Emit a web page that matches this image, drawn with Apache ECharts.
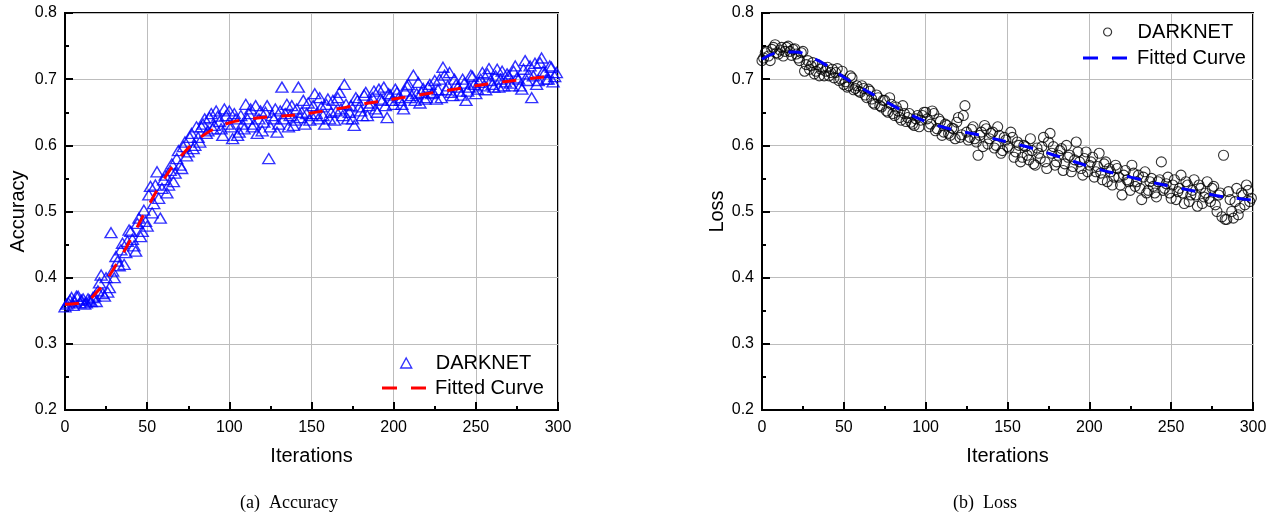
<!DOCTYPE html>
<html>
<head>
<meta charset="utf-8">
<script src="https://cdn.jsdelivr.net/npm/echarts@6/dist/echarts.min.js"></script>
<style>
html,body{margin:0;padding:0;background:#fff;}
#chart{width:1275px;height:519px;}
</style>
</head>
<body>
<div id="chart"></div>
<script>
// ---------- data ----------
const iterEven = [0,2,4,6,8,10,12,14,16,18,20,22,24,26,28,30,32,34,36,38,40,42,44,46,48,50,52,54,56,58,60,62,64,66,68,70,72,74,76,78,80,82,84,86,88,90,92,94,96,98,100,102,104,106,108,110,112,114,116,118,120,122,124,126,128,130,132,134,136,138,140,142,144,146,148,150,152,154,156,158,160,162,164,166,168,170,172,174,176,178,180,182,184,186,188,190,192,194,196,198,200,202,204,206,208,210,212,214,216,218,220,222,224,226,228,230,232,234,236,238,240,242,244,246,248,250,252,254,256,258,260,262,264,266,268,270,272,274,276,278,280,282,284,286,288,290,292,294,296,298];
const iterOdd = [1,3,5,7,9,11,13,15,17,19,21,23,25,27,29,31,33,35,37,39,41,43,45,47,49,51,53,55,57,59,61,63,65,67,69,71,73,75,77,79,81,83,85,87,89,91,93,95,97,99,101,103,105,107,109,111,113,115,117,119,121,123,125,127,129,131,133,135,137,139,141,143,145,147,149,151,153,155,157,159,161,163,165,167,169,171,173,175,177,179,181,183,185,187,189,191,193,195,197,199,201,203,205,207,209,211,213,215,217,219,221,223,225,227,229,231,233,235,237,239,241,243,245,247,249,251,253,255,257,259,261,263,265,267,269,271,273,275,277,279,281,283,285,287,289,291,293,295,297,299];

const accuracyEven = [0.356,0.362,0.370,0.364,0.372,0.366,0.360,0.368,0.364,0.372,0.380,0.404,0.372,0.378,0.468,0.400,0.425,0.442,0.420,0.455,0.470,0.448,0.482,0.462,0.502,0.478,0.538,0.512,0.560,0.490,0.548,0.528,0.562,0.545,0.580,0.570,0.598,0.584,0.612,0.595,0.628,0.605,0.632,0.618,0.642,0.625,0.652,0.636,0.615,0.645,0.652,0.610,0.640,0.620,0.632,0.662,0.648,0.628,0.660,0.640,0.622,0.650,0.580,0.645,0.655,0.632,0.688,0.648,0.628,0.660,0.638,0.688,0.650,0.632,0.664,0.645,0.678,0.640,0.658,0.632,0.670,0.650,0.638,0.672,0.655,0.692,0.640,0.660,0.630,0.668,0.652,0.676,0.645,0.664,0.682,0.650,0.670,0.688,0.642,0.676,0.662,0.680,0.668,0.655,0.690,0.672,0.706,0.678,0.664,0.686,0.672,0.692,0.680,0.670,0.700,0.718,0.684,0.710,0.675,0.692,0.682,0.700,0.668,0.688,0.704,0.678,0.695,0.710,0.684,0.716,0.692,0.705,0.688,0.712,0.696,0.705,0.690,0.720,0.700,0.685,0.728,0.708,0.672,0.724,0.698,0.732,0.710,0.700,0.718,0.704];
const accuracyOdd = [0.360,0.366,0.358,0.372,0.362,0.368,0.362,0.366,0.370,0.364,0.392,0.376,0.400,0.385,0.410,0.432,0.418,0.452,0.438,0.472,0.458,0.440,0.490,0.470,0.485,0.525,0.498,0.540,0.520,0.535,0.555,0.540,0.572,0.558,0.592,0.565,0.605,0.590,0.618,0.600,0.612,0.628,0.640,0.622,0.648,0.630,0.644,0.625,0.655,0.632,0.628,0.648,0.615,0.645,0.625,0.640,0.655,0.632,0.618,0.652,0.635,0.660,0.628,0.640,0.620,0.652,0.640,0.662,0.645,0.630,0.655,0.642,0.668,0.648,0.638,0.660,0.648,0.672,0.645,0.662,0.640,0.668,0.652,0.680,0.645,0.662,0.650,0.640,0.672,0.658,0.645,0.680,0.660,0.672,0.655,0.685,0.668,0.660,0.678,0.668,0.685,0.672,0.662,0.682,0.692,0.675,0.668,0.695,0.680,0.670,0.688,0.678,0.698,0.684,0.672,0.706,0.690,0.680,0.700,0.688,0.676,0.694,0.682,0.706,0.692,0.685,0.700,0.690,0.708,0.698,0.688,0.715,0.700,0.690,0.708,0.694,0.712,0.702,0.690,0.715,0.698,0.720,0.705,0.692,0.725,0.712,0.700,0.720,0.696,0.710];

const lossEven = [0.728,0.740,0.735,0.745,0.752,0.738,0.748,0.742,0.750,0.736,0.746,0.732,0.740,0.712,0.728,0.720,0.708,0.722,0.715,0.705,0.718,0.710,0.702,0.716,0.700,0.692,0.688,0.705,0.684,0.690,0.680,0.686,0.672,0.682,0.664,0.676,0.660,0.668,0.652,0.672,0.648,0.658,0.642,0.660,0.636,0.648,0.632,0.640,0.628,0.645,0.650,0.628,0.652,0.622,0.640,0.615,0.632,0.618,0.626,0.610,0.642,0.616,0.660,0.608,0.624,0.610,0.585,0.620,0.630,0.602,0.618,0.596,0.628,0.588,0.612,0.598,0.620,0.582,0.605,0.575,0.600,0.585,0.610,0.572,0.596,0.580,0.612,0.565,0.618,0.598,0.575,0.592,0.562,0.600,0.585,0.568,0.605,0.575,0.555,0.590,0.570,0.582,0.560,0.588,0.548,0.575,0.565,0.540,0.570,0.552,0.525,0.562,0.545,0.570,0.538,0.555,0.518,0.560,0.532,0.550,0.528,0.545,0.575,0.535,0.552,0.520,0.548,0.530,0.555,0.512,0.540,0.525,0.548,0.508,0.535,0.522,0.545,0.515,0.538,0.500,0.528,0.585,0.488,0.518,0.490,0.535,0.505,0.525,0.540,0.515];
const lossOdd = [0.732,0.742,0.728,0.748,0.740,0.744,0.735,0.748,0.742,0.745,0.738,0.728,0.742,0.722,0.715,0.725,0.712,0.705,0.718,0.712,0.705,0.715,0.710,0.698,0.712,0.696,0.690,0.702,0.686,0.682,0.690,0.676,0.685,0.670,0.662,0.672,0.658,0.668,0.650,0.662,0.645,0.652,0.638,0.648,0.642,0.635,0.630,0.645,0.638,0.650,0.640,0.632,0.648,0.625,0.636,0.620,0.630,0.615,0.625,0.635,0.612,0.645,0.620,0.612,0.628,0.605,0.615,0.598,0.625,0.610,0.620,0.600,0.615,0.592,0.608,0.596,0.612,0.590,0.600,0.582,0.598,0.578,0.592,0.570,0.588,0.598,0.575,0.605,0.588,0.570,0.585,0.595,0.572,0.582,0.560,0.578,0.590,0.565,0.580,0.560,0.575,0.552,0.568,0.558,0.572,0.545,0.560,0.552,0.565,0.540,0.555,0.548,0.532,0.558,0.545,0.535,0.552,0.528,0.545,0.538,0.522,0.548,0.532,0.542,0.528,0.540,0.518,0.535,0.528,0.545,0.515,0.532,0.525,0.540,0.512,0.528,0.520,0.535,0.510,0.525,0.492,0.488,0.530,0.500,0.515,0.495,0.528,0.510,0.532,0.520];

const fitX = [0,10,20,30,40,50,60,70,80,90,100,110,120,130,140,150,160,170,180,190,200,210,220,230,240,250,260,270,280,290,300];
const accuracyFit = [0.360,0.362,0.380,0.415,0.458,0.505,0.548,0.582,0.607,0.624,0.634,0.639,0.642,0.644,0.646,0.649,0.653,0.657,0.662,0.666,0.670,0.674,0.678,0.682,0.686,0.690,0.694,0.697,0.700,0.703,0.705];
const lossFit = [0.730,0.740,0.741,0.733,0.720,0.703,0.688,0.674,0.660,0.647,0.636,0.628,0.622,0.617,0.611,0.605,0.599,0.592,0.584,0.576,0.568,0.561,0.555,0.549,0.543,0.538,0.533,0.528,0.523,0.520,0.517];

const xTicks = [0,50,100,150,200,250,300];
const yTicks = [0.2,0.3,0.4,0.5,0.6,0.7,0.8];

// ---------- chart ----------
const SANS = "'Liberation Sans', Arial, Helvetica, sans-serif";
const SERIF = "'Liberation Serif', 'Times New Roman', serif";
const pair = (xs, ys) => xs.map((x, i) => [x, ys[i]]);
const merge = (xa, ya, xb, yb) => pair(xa, ya).concat(pair(xb, yb)).sort((p, q) => p[0] - q[0]);
const dashIcon = 'path://M0,0H15V3H0Z M29,0H44V3H29Z';

function xAxisOpt(gi) {
  return {
    gridIndex: gi, type: 'value', min: xTicks[0], max: xTicks[xTicks.length-1], interval: 50,
    name: 'Iterations', nameLocation: 'middle', nameGap: 36,
    nameTextStyle: {fontFamily: SANS, fontSize: 20, color: '#000'},
    axisLine: {show: true, lineStyle: {color: '#000', width: 2}},
    axisTick: {show: true, inside: true, length: 8, lineStyle: {color: '#000', width: 2}},
    minorTick: {show: true, splitNumber: 2, length: 4, lineStyle: {color: '#000', width: 2}},
    axisLabel: {fontFamily: SANS, fontSize: 16, color: '#000', margin: 10},
    splitLine: {show: true, lineStyle: {color: '#bdbdbd', width: 1}}
  };
}
function yAxisOpt(gi, name, gap) {
  return {
    gridIndex: gi, type: 'value', min: yTicks[0], max: yTicks[yTicks.length-1], interval: 0.1,
    name: name, nameLocation: 'middle', nameGap: gap,
    nameTextStyle: {fontFamily: SANS, fontSize: 20, color: '#000'},
    axisLine: {show: true, lineStyle: {color: '#000', width: 2}},
    axisTick: {show: true, inside: true, length: 8, lineStyle: {color: '#000', width: 2}},
    minorTick: {show: true, splitNumber: 2, length: 4, lineStyle: {color: '#000', width: 2}},
    axisLabel: {fontFamily: SANS, fontSize: 16, color: '#000', margin: 8,
      formatter: v => v.toFixed(1)},
    splitLine: {show: true, lineStyle: {color: '#bdbdbd', width: 1}}
  };
}
function legendOpt(name, icon, left, top, w, h, itemStyle, padLeft) {
  return {
    data: [{name: name, icon: icon}], left: left, top: top, orient: 'vertical',
    itemWidth: w, itemHeight: h, padding: 0, selectedMode: false,
    itemStyle: itemStyle,
    textStyle: {fontFamily: SANS, fontSize: 20, color: '#000', padding: [0, 0, 0, padLeft]}
  };
}

const chart = echarts.init(document.getElementById('chart'), null, {renderer: 'canvas'});
chart.setOption({
  animation: false,
  backgroundColor: '#fff',
  title: [
    {text: '(a)  Accuracy', left: 240, top: 494, padding: 0,
     textStyle: {fontFamily: SERIF, fontSize: 18, fontWeight: 'normal', color: '#000'}},
    {text: '(b)  Loss', left: 953, top: 494, padding: 0,
     textStyle: {fontFamily: SERIF, fontSize: 18, fontWeight: 'normal', color: '#000'}}
  ],
  grid: [
    {left: 65, right: 717, top: 13, bottom: 109, show: true, borderColor: '#000', borderWidth: 2, backgroundColor: 'transparent'},
    {left: 762, right: 22, top: 13, bottom: 109, show: true, borderColor: '#000', borderWidth: 2, backgroundColor: 'transparent'}
  ],
  xAxis: [xAxisOpt(0), xAxisOpt(1)],
  yAxis: [yAxisOpt(0, 'Accuracy', 37), yAxisOpt(1, 'Loss', 34)],
  legend: [
    legendOpt('DARKNET', 'triangle', 400, 353, 11, 10, {color: 'transparent', borderColor: '#0000ff', borderWidth: 1.4}, 19),
    legendOpt('Fitted Curve', dashIcon, 382, 378, 44, 3, {color: '#ff0000', borderWidth: 0}, 4),
    legendOpt('DARKNET', 'circle', 1103, 22, 8, 8, {color: 'transparent', borderColor: '#000', borderWidth: 1.2}, 21),
    legendOpt('Fitted Curve', dashIcon, 1083, 48, 44, 3, {color: '#0000ff', borderWidth: 0}, 5)
  ],
  series: [
    {name: 'DARKNET', type: 'scatter', xAxisIndex: 0, yAxisIndex: 0,
     data: merge(iterEven, accuracyEven, iterOdd, accuracyOdd), symbol: 'triangle', symbolSize: [12, 10],
     itemStyle: {color: 'transparent', borderColor: '#0000ff', borderWidth: 1.4}},
    {name: 'Fitted Curve', type: 'line', xAxisIndex: 0, yAxisIndex: 0,
     data: pair(fitX, accuracyFit), smooth: true, showSymbol: false, symbol: 'none',
     lineStyle: {color: '#ff0000', width: 3, type: [14, 14]}, itemStyle: {color: '#ff0000'}},
    {name: 'DARKNET', type: 'scatter', xAxisIndex: 1, yAxisIndex: 1,
     data: merge(iterEven, lossEven, iterOdd, lossOdd), symbol: 'circle', symbolSize: 10,
     itemStyle: {color: 'transparent', borderColor: '#000', borderWidth: 1.1}},
    {name: 'Fitted Curve', type: 'line', xAxisIndex: 1, yAxisIndex: 1,
     data: pair(fitX, lossFit), smooth: true, showSymbol: false, symbol: 'none',
     lineStyle: {color: '#0000ff', width: 3, type: [14, 14]}, itemStyle: {color: '#0000ff'}}
  ]
});
</script>
</body>
</html>
